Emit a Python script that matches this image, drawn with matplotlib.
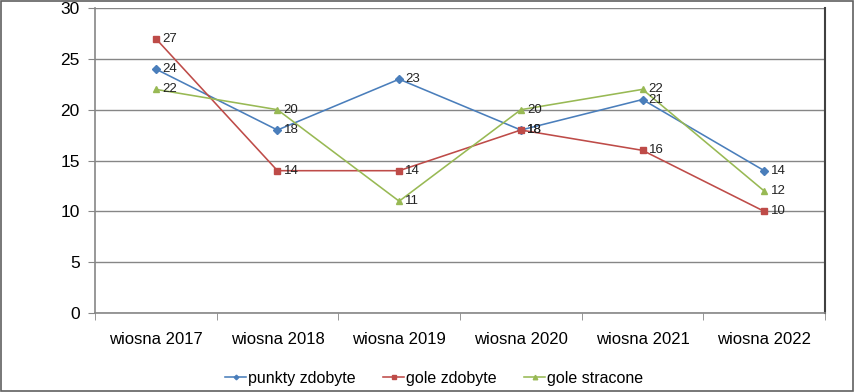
import numpy as np
import matplotlib.pyplot as plt
from matplotlib.patches import Rectangle

plt.rcParams['font.family'] = ['Liberation Sans', 'DejaVu Sans']

seasons = ['wiosna 2017', 'wiosna 2018', 'wiosna 2019', 'wiosna 2020', 'wiosna 2021', 'wiosna 2022']
punkty = [24, 18, 23, 18, 21, 14]
gole_zdobyte = [27, 14, 14, 18, 16, 10]
gole_stracone = [22, 20, 11, 20, 22, 12]

series = [
    ('punkty zdobyte', punkty, '#4A7EBB', 'D', 3.6),
    ('gole zdobyte', gole_zdobyte, '#BE4B48', 's', 4.6),
    ('gole stracone', gole_stracone, '#98B954', '^', 5),
]

fig = plt.figure(figsize=(8.55, 3.92), dpi=100)
ax = fig.add_axes([0.111, 0.2015, 0.854, 0.778])

x = np.arange(len(seasons))
for name, vals, col, mk, ms in series:
    ax.plot(x, vals, color=col, lw=1.15, marker=mk, ms=ms, label=name)
    for xi, v in zip(x, vals):
        ax.annotate(str(v), (xi, v), xytext=(4.5, 0), textcoords='offset points',
                    va='center', ha='left', fontsize=9.5, color='#222222')

ax.set_xlim(-0.5, len(seasons) - 0.5)
ax.set_ylim(0, 30)
ax.set_yticks(range(0, 31, 5))
ax.set_xticks(x)
ax.set_xticklabels(seasons, fontsize=12)
ax.tick_params(axis='x', length=0, pad=14)
ax.set_xticks(np.arange(-0.5, len(seasons), 1), minor=True)
ax.tick_params(axis='x', which='minor', length=5, color='#868686', direction='out')
ax.tick_params(axis='y', labelsize=12.5, length=5, color='#868686', pad=6)
ax.grid(axis='y', color='#868686', lw=1)
ax.set_axisbelow(True)
ax.spines['top'].set_visible(False)
ax.spines['left'].set_color('#868686')
ax.spines['bottom'].set_color('#868686')
ax.spines['left'].set_linewidth(1.2)
ax.spines['bottom'].set_linewidth(1.2)
ax.spines['right'].set_color('#404040')
ax.spines['right'].set_linewidth(1.5)

leg = fig.legend(loc='center', bbox_to_anchor=(0.508, 0.035), ncol=3, frameon=False,
                 fontsize=11.5, handlelength=1.3, handletextpad=0.15, columnspacing=1.7,
                 markerscale=0.65)

fig.patches.append(Rectangle((0.001, 0.002), 0.997, 0.996, transform=fig.transFigure,
                             fill=False, edgecolor='#606060', lw=1.2))

fig.savefig('out.png', dpi=100)
